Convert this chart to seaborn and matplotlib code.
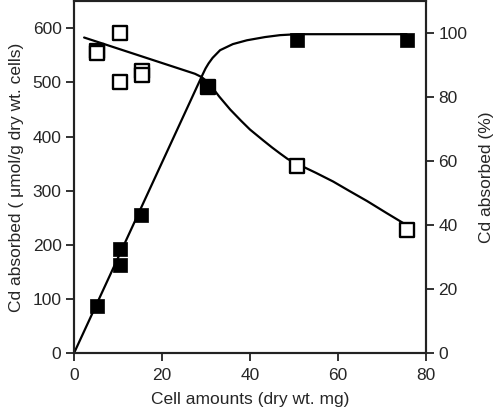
import matplotlib
matplotlib.use("Agg")
import matplotlib.pyplot as plt
import seaborn as sns
import pandas as pd

# Open squares: Cd absorbed (umol/g dry wt. cells), left axis
umol_x = [5.2, 5.2, 10.5, 10.5, 15.4, 15.4, 30.5, 50.6, 75.6]
umol_y = [558, 555, 591, 500, 522, 513, 491, 345, 227]

# Filled squares: Cd absorbed (%), right axis
pct_x = [5.2, 10.5, 10.5, 15.3, 30.3, 50.6, 75.6]
pct_y = [14.7, 32.7, 27.5, 43.1, 83.5, 98.0, 98.0]

# Fitted curves
umol_curve_x = [2.3, 27.5, 29.0, 30.2, 31.4, 33.0, 35.5, 38.0, 40.0, 43.0, 45.0,
                46.8, 48.5, 49.8, 51.4, 55.0, 58.9, 62.5, 66.6, 71.0, 75.7]
umol_curve_y = [583, 516, 510, 502, 491, 474, 450, 429, 413, 393, 380,
                369, 359, 353, 347, 333, 317, 300, 281, 259, 236]

pct_curve_x = [0.0, 29.2, 29.9, 30.6, 31.5, 33.2, 36.1, 39.3, 43.4, 46.8, 50.7, 75.6]
pct_curve_y = [0.0, 87.0, 89.0, 90.6, 92.3, 94.7, 96.6, 97.8, 98.8, 99.4, 99.7, 99.7]

x_ticks = [0, 20, 40, 60, 80]
left_ticks = [0, 100, 200, 300, 400, 500, 600]
right_ticks = [0, 20, 40, 60, 80, 100]

sns.set_style("ticks")
plt.rcParams["font.family"] = ["Liberation Sans", "DejaVu Sans"]
FS = 12.5
plt.rcParams["font.size"] = FS

fig = plt.figure(figsize=(5.0, 4.15), dpi=100)
ax = fig.add_axes([0.148, 0.149, 0.704, 0.848])
ax2 = ax.twinx()

df_uc = pd.DataFrame({"x": umol_curve_x, "y": umol_curve_y})
df_pc = pd.DataFrame({"x": pct_curve_x, "y": pct_curve_y})
df_u = pd.DataFrame({"x": umol_x, "y": umol_y})
df_p = pd.DataFrame({"x": pct_x, "y": pct_y})

sns.lineplot(data=df_uc, x="x", y="y", ax=ax, color="black", lw=1.6, sort=False, estimator=None)
sns.scatterplot(data=df_u, x="x", y="y", ax=ax, marker="s", s=95, facecolor="white",
                edgecolor="black", linewidth=1.7, zorder=3)

sns.lineplot(data=df_pc, x="x", y="y", ax=ax2, color="black", lw=1.6, sort=False, estimator=None)
sns.scatterplot(data=df_p, x="x", y="y", ax=ax2, marker="s", s=100, color="black",
                edgecolor="black", linewidth=0.5, zorder=3)

ax.set_xlim(0, 80)
ax.set_ylim(0, 650)
ax2.set_ylim(0, 110)
ax.set_xticks(x_ticks)
ax.set_yticks(left_ticks)
ax2.set_yticks(right_ticks)

ax.set_xlabel("Cell amounts (dry wt. mg)", fontsize=FS, labelpad=6)
ax.set_ylabel("Cd absorbed ( \u03bcmol/g dry wt. cells)", fontsize=FS, labelpad=6)
ax2.set_ylabel("Cd absorbed (%)", fontsize=FS, labelpad=8)

for a in (ax, ax2):
    for s in a.spines.values():
        s.set_linewidth(1.5)
        s.set_visible(True)
        s.set_color("#222222")
    a.tick_params(direction="out", length=6, width=1.3, labelsize=FS, color="#222222")
ax.tick_params(axis="x", pad=5)
ax.tick_params(axis="y", pad=3)
ax2.tick_params(axis="y", pad=3)

fig.savefig("out.png", dpi=100)
